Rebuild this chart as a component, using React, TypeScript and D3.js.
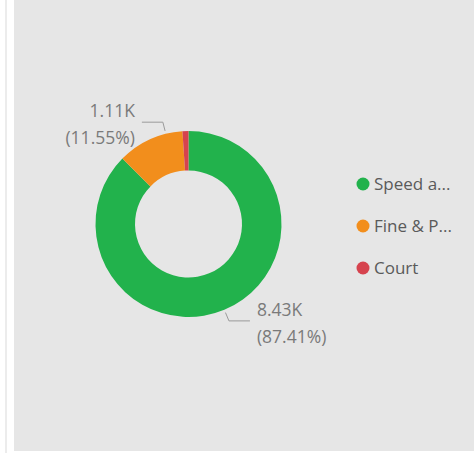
import React, { useEffect, useRef } from 'react';
import * as d3 from 'd3';

const categories = ['Speed a...', 'Fine & P...', 'Court'];
const values = [8430, 1114, 100];
const colors = ['#22b24c', '#f28e1c', '#d6434e'];
// which slices get a data label, and where along the slice the leader sits (0..1)
const labelled = [true, true, false];
const leaderPos = [0.5, 0.75, 0.5];

const W = 474;
const H = 453;

const fmtK = (v: number) => (v / 1000).toFixed(2) + 'K';
const fmtPct = (p: number) => '(' + (p * 100).toFixed(2) + '%)';

const App: React.FC = () => {
    const svgRef = useRef<SVGSVGElement>(null);

    useEffect(() => {
        if (!svgRef.current) return;
        const svg = d3.select(svgRef.current);
        svg.selectAll('*').remove();

        // page chrome: white strip with a faint line, then grey panel
        svg.append('rect').attr('width', W).attr('height', H).attr('fill', '#ffffff');
        svg.append('rect').attr('x', 5).attr('y', 0).attr('width', 2).attr('height', H).attr('fill', '#ececec');
        svg.append('rect').attr('x', 14).attr('y', 0).attr('width', W - 14).attr('height', 451).attr('fill', '#e6e6e6');

        const cx = 188.5;
        const cy = 224;
        const outerR = 93;
        const innerR = 53.5;
        const total = d3.sum(values);

        const pie = d3.pie<number>().sort(null).value(d => d);
        const arcs = pie(values);
        const arc = d3.arc<d3.PieArcDatum<number>>().innerRadius(innerR).outerRadius(outerR);

        const g = svg.append('g').attr('transform', `translate(${cx},${cy})`);

        g.selectAll('path.slice')
            .data(arcs)
            .join('path')
            .attr('class', 'slice')
            .attr('d', arc)
            .attr('fill', (_, i) => colors[i]);

        const polar = (r: number, a: number): [number, number] => [r * Math.sin(a), -r * Math.cos(a)];

        arcs.forEach((a, i) => {
            if (!labelled[i]) return;
            const ang = a.startAngle + (a.endAngle - a.startAngle) * leaderPos[i];
            const right = Math.sin(ang) > 0;
            const p0 = polar(outerR + 3, ang);
            const p1 = polar(outerR + 12, ang);
            const p2: [number, number] = [p1[0] + (right ? 21 : -21), p1[1]];
            g.append('polyline')
                .attr('points', [p0, p1, p2].map(p => p.join(',')).join(' '))
                .attr('fill', 'none')
                .attr('stroke', '#9a9a9a')
                .attr('stroke-width', 1);

            const tx = p2[0] + (right ? 7 : -7);
            const anchor = right ? 'start' : 'end';
            const lbl = g.append('g')
                .attr('font-family', '"Open Sans", sans-serif')
                .attr('font-size', 17.5)
                .attr('fill', '#7a7a7a')
                .attr('text-anchor', anchor);
            lbl.append('text').attr('x', tx).attr('y', p1[1] - 5).text(fmtK(values[i]));
            lbl.append('text').attr('x', tx).attr('y', p1[1] + 22).text(fmtPct(values[i] / total));
        });

        // legend
        const legendY = d3.scalePoint<string>().domain(categories).range([184, 268]);
        const lg = svg.append('g').attr('font-family', '"Open Sans", sans-serif');
        const rows = lg.selectAll('g.row')
            .data(categories)
            .join('g')
            .attr('class', 'row')
            .attr('transform', d => `translate(363,${legendY(d)})`);
        rows.append('circle').attr('r', 6.5).attr('fill', (_, i) => colors[i]);
        rows.append('text')
            .attr('x', 11)
            .attr('dy', '0.35em')
            .attr('font-size', 17)
            .attr('fill', '#5a5a5a')
            .text(d => d);
    }, []);

    return (
        <div style={{ position: 'absolute', left: 0, top: 0 }}>
            <svg ref={svgRef} width={W} height={H} style={{ display: 'block' }}></svg>
        </div>
    );
};

export default App;
